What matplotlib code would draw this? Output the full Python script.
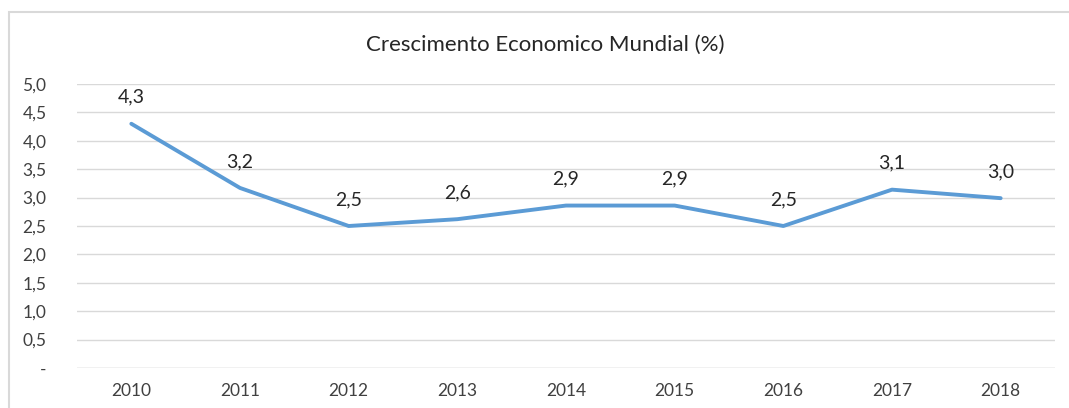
import matplotlib
matplotlib.use("Agg")
import matplotlib.pyplot as plt
from matplotlib.patches import Rectangle

years = ["2010", "2011", "2012", "2013", "2014", "2015", "2016", "2017", "2018"]
growth = [4.30, 3.17, 2.50, 2.62, 2.86, 2.86, 2.50, 3.14, 2.99]
yticks = [0, 0.5, 1.0, 1.5, 2.0, 2.5, 3.0, 3.5, 4.0, 4.5, 5.0]
title = "Crescimento Economico Mundial (%)"

plt.rcParams['font.family'] = ['Lato', 'DejaVu Sans']

W, H = 1069, 408
fig = plt.figure(figsize=(W / 100, H / 100), dpi=100)
fig.patch.set_facecolor("white")

# outer chart border (partially visible)
fig.patches.append(Rectangle((9 / W, -0.1), 1.2, (H - 12) / H + 0.1, transform=fig.transFigure,
                             fill=False, edgecolor="#D9D9D9", linewidth=1.5))

ax = fig.add_axes([77 / W, 40 / H, (1055 - 77) / W, (368 - 84) / H])
x = list(range(len(years)))
ax.plot(x, growth, color="#5B9BD5", linewidth=2.8, solid_capstyle="round", solid_joinstyle="round", zorder=3)

for xi, v in zip(x, growth):
    ax.annotate(f"{v:.1f}".replace(".", ","), (xi, v), xytext=(0, 13), textcoords="offset points",
                ha="center", va="bottom", fontsize=14, color="#262626")

ax.set_xlim(-0.5, len(years) - 0.5)
ax.set_ylim(0, 5.0)
ax.set_yticks(yticks)
ax.set_yticklabels(["-" if t == 0 else f"{t:.1f}".replace(".", ",") for t in yticks])
ax.set_xticks(x)
ax.set_xticklabels(years)
ax.tick_params(axis="both", length=0, labelsize=12.5, colors="#404040")
ax.tick_params(axis="y", pad=22)
ax.tick_params(axis="x", pad=11)
ax.grid(axis="y", color="#D9D9D9", linewidth=1.0)
ax.set_axisbelow(True)
for s in ax.spines.values():
    s.set_visible(False)
ax.axhline(0, color="#D9D9D9", linewidth=1.0, zorder=1)

fig.text(545 / W, 1 - 45 / H, title, ha="center", va="center", fontsize=16, color="#262626")

fig.savefig("out.png", dpi=100)
